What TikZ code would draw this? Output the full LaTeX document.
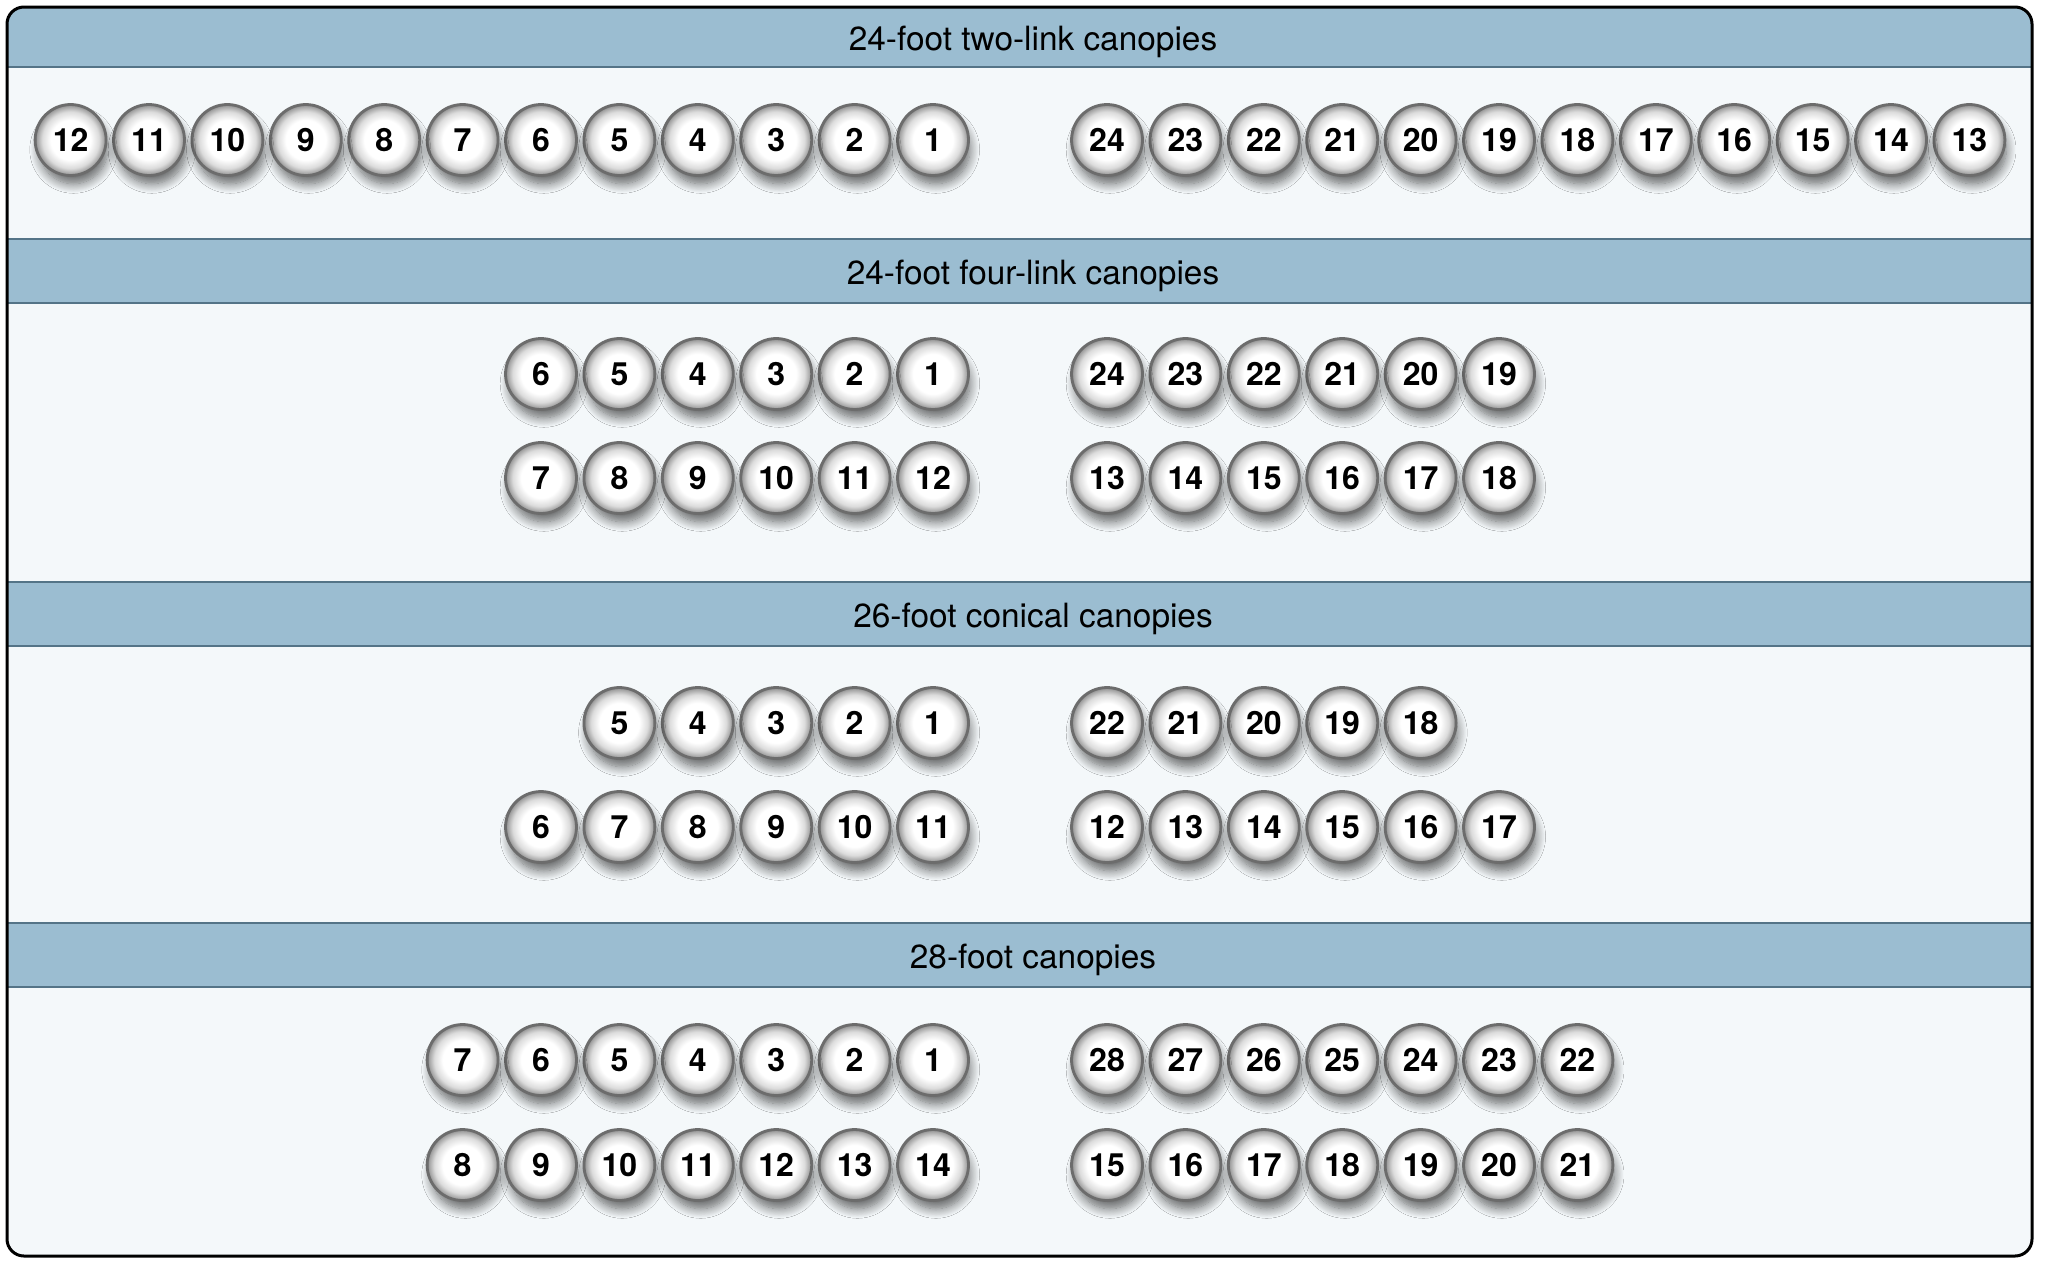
\documentclass[tikz,border=0pt]{standalone}
\usepackage{fontspec}
\setmainfont{TeX Gyre Heros}
\usetikzlibrary{shadows.blur}
\definecolor{headblue}{RGB}{155,189,209}
\definecolor{headline}{RGB}{84,116,135}
\definecolor{bodyblue}{RGB}{244,248,250}
\definecolor{ringgray}{RGB}{108,108,108}
\pgfdeclareradialshading{pearl}{\pgfpoint{0bp}{0bp}}{color(0bp)=(white); color(14bp)=(white); color(20bp)=(black!14); color(24bp)=(black!38); color(25bp)=(black!55); color(50bp)=(black!55)}
\begin{document}
\begin{tikzpicture}[x=0.5pt, y=-0.5pt,
	bead/.style={circle, minimum size=35.5pt, inner sep=0pt, draw=ringgray, line width=1.4pt, shading=pearl,
		font=\bfseries\fontsize{16}{16}\selectfont,
		blur shadow={shadow xshift=1.5pt, shadow yshift=-5pt, shadow scale=0.96, shadow blur radius=5pt, shadow blur steps=12, shadow opacity=60}},
	band/.style={fill=headblue, draw=headline, line width=0.8pt},
	title/.style={anchor=base, font=\fontsize{16.7}{16.7}\selectfont}]
\useasboundingbox (0,0) rectangle (2049,1264);
% Rahmen und Kopfzeilen
\fill[bodyblue, rounded corners=8.5pt] (7,7) rectangle (2032,1256);
\begin{scope}
	\clip[rounded corners=8.5pt] (7,7) rectangle (2032,1256);
	\draw[band] (0,7) rectangle (2049,67);
	\draw[band] (0,239) rectangle (2049,303);
	\draw[band] (0,582) rectangle (2049,646);
	\draw[band] (0,923) rectangle (2049,987);
\end{scope}
\draw[line width=1.5pt, rounded corners=8.5pt] (7,7) rectangle (2032,1256);
\node[title] (twoT) at (1033,50) {24-foot two-link canopies};
\node[title] (fourT) at (1033,284) {24-foot four-link canopies};
\node[title] (conT) at (1033,627) {26-foot conical canopies};
\node[title] (bigT) at (1033,968) {28-foot canopies};

% 24-foot two-link
\foreach \n in {1,...,12} \node[bead] (two\n) at ({933-78.4*(\n-1)},140) {\n};
\foreach \n in {13,...,24} \node[bead] (two\n) at ({1107+78.4*(24-\n)},140) {\n};

% 24-foot four-link
\foreach \n in {1,...,6} \node[bead] (four\n) at ({933-78.4*(\n-1)},374) {\n};
\foreach \n in {7,...,12} \node[bead] (four\n) at ({933-78.4*(12-\n)},478) {\n};
\foreach \n in {13,...,18} \node[bead] (four\n) at ({1107+78.4*(\n-13)},478) {\n};
\foreach \n in {19,...,24} \node[bead] (four\n) at ({1107+78.4*(24-\n)},374) {\n};

% 26-foot conical
\foreach \n in {1,...,5} \node[bead] (con\n) at ({933-78.4*(\n-1)},723) {\n};
\foreach \n in {6,...,11} \node[bead] (con\n) at ({933-78.4*(11-\n)},827) {\n};
\foreach \n in {12,...,17} \node[bead] (con\n) at ({1107+78.4*(\n-12)},827) {\n};
\foreach \n in {18,...,22} \node[bead] (con\n) at ({1107+78.4*(22-\n)},723) {\n};

% 28-foot
\foreach \n in {1,...,7} \node[bead] (big\n) at ({933-78.4*(\n-1)},1060) {\n};
\foreach \n in {8,...,14} \node[bead] (big\n) at ({933-78.4*(14-\n)},1165) {\n};
\foreach \n in {15,...,21} \node[bead] (big\n) at ({1107+78.4*(\n-15)},1165) {\n};
\foreach \n in {22,...,28} \node[bead] (big\n) at ({1107+78.4*(28-\n)},1060) {\n};
\end{tikzpicture}
\end{document}
